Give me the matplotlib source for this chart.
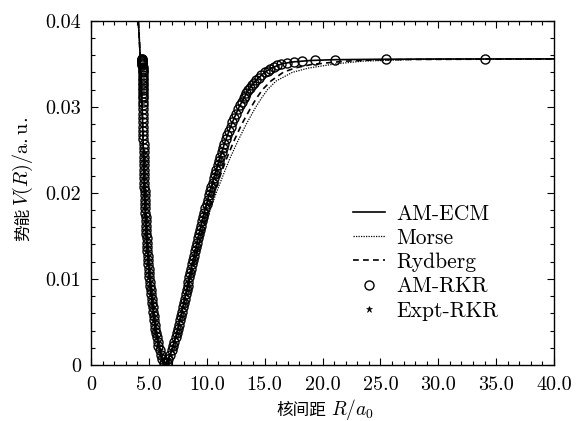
import numpy as np
import matplotlib.pyplot as plt
from matplotlib.ticker import MultipleLocator

# shared inner wall and well bottom (all three model curves coincide here)
wall_r = [4.05, 4.09, 4.23, 4.33, 4.42, 4.50, 4.56, 4.62, 4.70, 4.80, 4.92, 5.06, 5.22,
          5.40, 5.57, 5.69, 5.83, 6.02, 6.20, 6.40, 6.60, 6.78, 7.05, 7.47, 7.82, 8.15]
wall_v = [0.0410, 0.0400, 0.0364, 0.0330, 0.0300, 0.0260, 0.0230, 0.0200, 0.0175, 0.0150,
          0.0125, 0.0100, 0.0080, 0.0060, 0.0040, 0.0032, 0.0022, 0.0012, 0.0004, 0.0,
          0.0004, 0.0010, 0.0020, 0.0040, 0.0060, 0.0080]

# outer branches
ecm_r = [8.47, 8.80, 9.13, 9.48, 9.85, 10.25, 10.68, 11.12, 11.60, 12.15, 12.80, 13.62,
         14.20, 15.00, 15.60, 16.50, 17.50, 19.00, 21.00, 25.00, 30.00, 40.00]
ecm_v = [0.0100, 0.0120, 0.0140, 0.0160, 0.0180, 0.0200, 0.0220, 0.0240, 0.0260, 0.0280,
         0.0300, 0.0320, 0.0330, 0.0340, 0.0345, 0.0350, 0.03522, 0.03538, 0.03547,
         0.03552, 0.03555, 0.03556]

morse_r = [8.55, 8.95, 9.38, 9.82, 10.30, 10.82, 11.40, 12.00, 12.68, 13.42, 14.25, 14.73,
           15.25, 16.00, 17.40, 18.80, 21.20, 23.50, 28.00, 40.00]
morse_v = [0.0100, 0.0120, 0.0140, 0.0160, 0.0180, 0.0200, 0.0220, 0.0240, 0.0260, 0.0280,
           0.0300, 0.0310, 0.0320, 0.0330, 0.0340, 0.0345, 0.0350, 0.0353, 0.0355, 0.03556]

ryd_r = [8.52, 8.90, 9.30, 9.72, 10.16, 10.64, 11.16, 11.72, 12.34, 13.03, 13.85, 14.30,
         14.82, 15.55, 16.60, 17.60, 19.00, 20.40, 22.00, 24.50, 28.00, 40.00]
ryd_v = [0.0100, 0.0120, 0.0140, 0.0160, 0.0180, 0.0200, 0.0220, 0.0240, 0.0260, 0.0280,
         0.0300, 0.0310, 0.0320, 0.0330, 0.0340, 0.0345, 0.0349, 0.0351, 0.0353, 0.03545,
         0.0355, 0.03556]

# AM-RKR turning points
rkr_v = [0.0002, 0.0007, 0.0012, 0.0017, 0.0022, 0.0027, 0.0032, 0.0037, 0.0042, 0.0047,
         0.0052, 0.0057, 0.0062, 0.0067, 0.0072, 0.0077, 0.0082, 0.0087, 0.0092, 0.0097,
         0.0102, 0.0107, 0.0112, 0.0117, 0.0122, 0.0127, 0.0132, 0.0137, 0.0142, 0.0147,
         0.0152, 0.0157, 0.0162, 0.0167, 0.0172, 0.0177, 0.0182, 0.0187, 0.0192, 0.0197,
         0.0202, 0.0207, 0.0212, 0.0217, 0.0222, 0.0227, 0.0232, 0.0237, 0.0242, 0.0247,
         0.0252, 0.0257, 0.0262, 0.0267, 0.0272, 0.0277, 0.0282, 0.0287, 0.0292, 0.0297,
         0.0302, 0.0306, 0.0310, 0.0313, 0.0316, 0.0319, 0.0322, 0.0325, 0.0328, 0.0331,
         0.0334, 0.0337, 0.0340, 0.0342, 0.0344, 0.0346, 0.0348, 0.03495, 0.0351, 0.03522,
         0.03532, 0.0354, 0.03547, 0.03552, 0.03555]
rkr_r_in = [6.27, 6.13, 6.02, 5.92, 5.83, 5.76, 5.69, 5.62, 5.56, 5.51,
            5.46, 5.42, 5.38, 5.34, 5.29, 5.25, 5.21, 5.17, 5.13, 5.09,
            5.05, 5.02, 4.99, 4.96, 4.93, 4.91, 4.88, 4.86, 4.83, 4.81,
            4.79, 4.77, 4.75, 4.73, 4.72, 4.70, 4.68, 4.67, 4.65, 4.64,
            4.63, 4.62, 4.61, 4.60, 4.59, 4.58, 4.57, 4.56, 4.56, 4.55,
            4.54, 4.54, 4.53, 4.52, 4.52, 4.51, 4.51, 4.50, 4.50, 4.49,
            4.49, 4.48, 4.48, 4.48, 4.47, 4.47, 4.47, 4.46, 4.46, 4.46,
            4.46, 4.45, 4.45, 4.45, 4.45, 4.45, 4.44, 4.44, 4.44, 4.44,
            4.44, 4.44, 4.44, 4.44, 4.44]
rkr_r_out = [6.54, 6.69, 6.84, 6.97, 7.10, 7.21, 7.32, 7.41, 7.51, 7.59,
             7.68, 7.77, 7.85, 7.94, 8.02, 8.10, 8.18, 8.26, 8.34, 8.42,
             8.50, 8.59, 8.67, 8.75, 8.83, 8.92, 9.00, 9.08, 9.17, 9.25,
             9.34, 9.43, 9.52, 9.61, 9.70, 9.79, 9.89, 9.99, 10.09, 10.19,
             10.29, 10.40, 10.51, 10.61, 10.72, 10.83, 10.94, 11.05, 11.17, 11.29,
             11.41, 11.53, 11.65, 11.79, 11.93, 12.07, 12.21, 12.38, 12.54, 12.70,
             12.87, 13.03, 13.18, 13.30, 13.43, 13.57, 13.73, 13.90, 14.07, 14.27,
             14.48, 14.73, 15.00, 15.25, 15.50, 15.78, 16.05, 16.40, 16.90, 17.50,
             18.25, 19.35, 21.10, 25.50, 34.00]

# Expt-RKR covers the lower levels only
n_expt = 50

plt.rcParams['font.family'] = ['cmr10', 'Noto Sans CJK SC']
plt.rcParams['mathtext.fontset'] = 'cm'
plt.rcParams['axes.unicode_minus'] = False
fs = 14.5
cjk = 'Noto Sans CJK SC'

W, H = 580, 421
fig = plt.figure(figsize=(W / 100, H / 100), dpi=100)
ax = fig.add_axes([91 / W, 1 - 365 / H, 463 / W, 344.3 / H])

ax.plot(np.concatenate([wall_r, ecm_r]), np.concatenate([wall_v, ecm_v]),
        color='k', lw=1.2, label='AM-ECM')
ax.plot(np.concatenate([wall_r, morse_r]), np.concatenate([wall_v, morse_v]),
        color='k', lw=0.9, ls=(0, (1, 1)), label='Morse')
ax.plot(np.concatenate([wall_r, ryd_r]), np.concatenate([wall_v, ryd_v]),
        color='k', lw=1.2, ls=(0, (3.5, 2.5)), label='Rydberg')
ax.plot(rkr_r_in + rkr_r_out, rkr_v + rkr_v, ls='none', marker='o', ms=6.5,
        mfc='none', mec='k', mew=1.0, label='AM-RKR')
ax.plot(rkr_r_in[:n_expt] + rkr_r_out[:n_expt], rkr_v[:n_expt] + rkr_v[:n_expt],
        ls='none', marker='*', ms=4.5, mfc='k', mec='k', mew=0.4, label='Expt-RKR')

ax.set_xlim(0, 40)
ax.set_ylim(0, 0.04)
ax.set_xticks(np.arange(0, 41, 5))
ax.set_xticklabels(['0', '5.0', '10.0', '15.0', '20.0', '25.0', '30.0', '35.0', '40.0'])
ax.set_yticks([0, 0.01, 0.02, 0.03, 0.04])
ax.set_yticklabels(['0', '0.01', '0.02', '0.03', '0.04'])
ax.xaxis.set_minor_locator(MultipleLocator(1))
ax.yaxis.set_minor_locator(MultipleLocator(0.002))
ax.tick_params(which='both', direction='in', top=True, right=True, width=0.8,
               labelsize=fs)
ax.tick_params(which='major', length=5)
ax.tick_params(which='minor', length=3)
ax.tick_params(axis='x', pad=8)
ax.tick_params(axis='y', pad=7)
for sp in ax.spines.values():
    sp.set_linewidth(1.0)

# axis labels: CJK part and math part side by side on a shared baseline
fig.text(326 / W, 1 - 415 / H, '核间距', family=cjk, fontsize=12,
         ha='right', va='baseline')
fig.text(331 / W, 1 - 415 / H, '$R/a_0$', fontsize=14, ha='left', va='baseline')
fig.text(28 / W, 1 - 208 / H, '势能', family=cjk, fontsize=12, rotation=90,
         rotation_mode='anchor', ha='right', va='baseline')
fig.text(28 / W, 1 - 206 / H, '$V(R)/\\mathrm{a.u.}$', fontsize=14.5, rotation=90,
         rotation_mode='anchor', ha='left', va='baseline')

ax.legend(loc='upper left', bbox_to_anchor=(353 / W, 1 - 204 / H),
          bbox_transform=fig.transFigure, frameon=False, fontsize=15.5,
          handlelength=1.5, handletextpad=0.5, labelspacing=0.22,
          borderpad=0, borderaxespad=0)

fig.savefig('out.png', dpi=100)
